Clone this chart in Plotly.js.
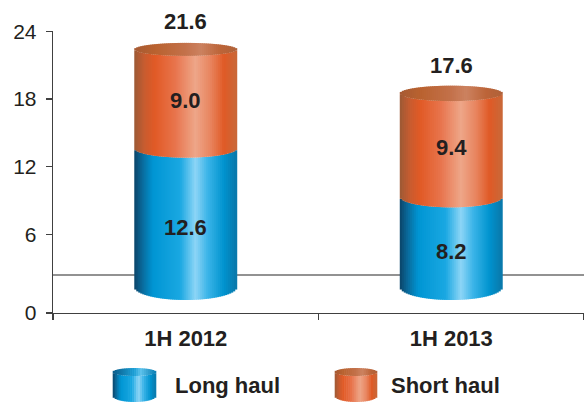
<!DOCTYPE html>
<html>
<head>
<meta charset="utf-8">
<script src="https://cdn.plot.ly/plotly-3.0.1.min.js"></script>
<style>
html,body{margin:0;padding:0;background:#fff;}
#chart{width:584px;height:402px;}
</style>
</head>
<body>
<div id="chart"></div>
<script>
// ---- data ----
const categories = ['1H 2012', '1H 2013'];
const longHaul = [12.6, 8.2];
const shortHaul = [9.0, 9.4];
const totals = [21.6, 17.6];
const seriesNames = ['Long haul', 'Short haul'];
const yTickLabels = ['0', '6', '12', '18', '24'];
const yTickVals = [-1.0, 6, 12, 18, 24];

// ---- styling helpers ----
const FONT = '"Liberation Sans", Arial, sans-serif';
const TXT = '#231f20';
const blueStops = [[0,'#0b4468'],[0.08,'#0a6b9c'],[0.18,'#0095d3'],[0.45,'#1aa8e2'],[0.6,'#8dd5f6'],[0.72,'#3bb4e8'],[0.88,'#0093cf'],[1,'#0a78aa']];
const orangeStops = [[0,'#9c5a35'],[0.1,'#c85c30'],[0.2,'#e15a26'],[0.4,'#e8744c'],[0.6,'#eea689'],[0.75,'#e8845e'],[0.88,'#e05a26'],[1,'#c96838']];
const topStops = [[0,'#a65a34'],[0.2,'#b9622f'],[0.5,'#c3714a'],[0.65,'#cc8260'],[0.85,'#bc6438'],[1,'#b0623a']];

function hex2rgb(h){return [parseInt(h.slice(1,3),16),parseInt(h.slice(3,5),16),parseInt(h.slice(5,7),16)];}
function colorAt(stops,u){
  for(let k=0;k<stops.length-1;k++){
    const a=stops[k], b=stops[k+1];
    if(u>=a[0] && u<=b[0]){
      const f=(u-a[0])/(b[0]-a[0]);
      const ca=hex2rgb(a[1]), cb=hex2rgb(b[1]);
      return 'rgb('+ca.map((v,i)=>Math.round(v+(cb[i]-v)*f)).join(',')+')';
    }
  }
  return stops[stops.length-1][1];
}

// geometry (style)
const W = 0.384;          // cylinder width in category units
const N = 51;             // slices per cylinder
const PXU = 11.0;         // px per unit on the data axis
function halfH(v){ return 13 - 0.3*v; }         // ellipse half-height (px) by level
function arc(t,v){ return halfH(v)*Math.sqrt(Math.max(0,1-t*t))/PXU; }

const traces = [];
// invisible trace to hold tick axis
traces.push({type:'scatter', x:categories, y:[null,null], xaxis:'x', yaxis:'y', hoverinfo:'skip', showlegend:false, mode:'markers'});

const lower = categories.map(()=>0);
const upperL = longHaul.slice();
const upperS = longHaul.map((v,j)=>v+shortHaul[j]);

function addSlices(lowVals, highVals, stops){
  for(let i=0;i<N;i++){
    const t = -1 + (2*i+1)/N, u=(t+1)/2;
    const bases = [], hs = [];
    for(let j=0;j<categories.length;j++){
      const b = lowVals[j] - arc(t, lowVals[j]);
      const top = highVals[j] - arc(t, highVals[j]);
      bases.push(b); hs.push(top-b);
    }
    traces.push({type:'bar', x:categories, y:hs, base:bases, xaxis:'x', yaxis:'y2',
      offset: -W/2 + i*W/N - 0.25*W/N, width: W/N*1.5,
      marker:{color:colorAt(stops,u), line:{width:0}}, hoverinfo:'skip', showlegend:false});
  }
}
addSlices(lower, upperL, blueStops);
addSlices(upperL, upperS, orangeStops);
// top faces
for(let i=0;i<N;i++){
  const t = -1 + (2*i+1)/N, u=(t+1)/2;
  const bases=[], hs=[];
  for(let j=0;j<categories.length;j++){
    const v = upperS[j];
    const d = arc(t, v);
    bases.push(v-d); hs.push(2*d);
  }
  traces.push({type:'bar', x:categories, y:hs, base:bases, xaxis:'x', yaxis:'y2',
    offset: -W/2 + i*W/N - 0.25*W/N, width: W/N*1.5,
    marker:{color:colorAt(topStops,u), line:{width:0}}, hoverinfo:'skip', showlegend:false});
}

// annotations
const LBL = {family:FONT,size:22,color:TXT,weight:'bold'};
const annotations = [];
for(let j=0;j<categories.length;j++){
  annotations.push({xref:'x', yref:'y2', x:categories[j], y:longHaul[j]/2, yshift:-10, text:longHaul[j].toFixed(1), showarrow:false, font:LBL});
  annotations.push({xref:'x', yref:'y2', x:categories[j], y:longHaul[j]+shortHaul[j]/2, yshift:-2, text:shortHaul[j].toFixed(1), showarrow:false, font:LBL});
  annotations.push({xref:'x', yref:'y2', x:categories[j], y:totals[j], yshift:28, text:totals[j].toFixed(1), showarrow:false, font:LBL});
}

// layout geometry
const L=53, R=584, T=31, B=313, H=402;
const px = X => (X-L)/(R-L);
const py = Y => (B-Y)/(B-T);

const shapes = [];
// floor line
shapes.push({type:'line', xref:'paper', yref:'paper', x0:0, x1:1, y0:py(275), y1:py(275), line:{color:'#262626', width:1.1}, layer:'below'});

// legend icons
function icon(x0, x1, stops, tstops){
  const n=22, yc=372, yb=396, ht=4, hb=6;
  for(let i=0;i<n;i++){
    const t=-1+(2*i+1)/n, u=(t+1)/2, s=Math.sqrt(1-t*t);
    const xa = x0 + (x1-x0)*i/n - 0.3, xb = x0 + (x1-x0)*(i+1)/n + 0.3;
    shapes.push({type:'rect', xref:'paper', yref:'paper', x0:px(xa), x1:px(xb), y0:py(yc+ht*s), y1:py(yb+hb*s), fillcolor:colorAt(stops,u), line:{width:0}, layer:'above'});
    shapes.push({type:'rect', xref:'paper', yref:'paper', x0:px(xa), x1:px(xb), y0:py(yc-ht*s), y1:py(yc+ht*s), fillcolor:colorAt(tstops,u), line:{width:0}, layer:'above'});
  }
}
const blueTop = [[0,'#0a5c8a'],[0.5,'#1a9fd6'],[0.65,'#5cc2ec'],[1,'#0a7fb4']];
icon(113, 156, blueStops, blueTop);
icon(335, 377, orangeStops, topStops);
annotations.push({xref:'paper', yref:'paper', x:px(173), y:py(385), xanchor:'left', yanchor:'middle', text:seriesNames[0], showarrow:false, font:LBL});
annotations.push({xref:'paper', yref:'paper', x:px(389), y:py(385), xanchor:'left', yanchor:'middle', text:seriesNames[1], showarrow:false, font:LBL});

const layout = {
  width:584, height:402,
  margin:{l:L, r:0, t:T, b:H-B, pad:0},
  paper_bgcolor:'#fff', plot_bgcolor:'#fff',
  barmode:'overlay',
  showlegend:false,
  font:{family:FONT, color:TXT},
  xaxis:{type:'category', categoryorder:'array', categoryarray:categories, range:[-0.5,1.5],
    showline:true, linecolor:'#404040', linewidth:1.3, showgrid:false, zeroline:false,
    ticks:'outside', tickson:'boundaries', ticklen:6, tickcolor:'#404040', tickwidth:1.3,
    tickfont:{family:FONT, size:22, color:TXT, weight:'bold'}, ticklabelstandoff:5, fixedrange:true},
  yaxis:{range:[-1.0, 24.05], tickvals:yTickVals, ticktext:yTickLabels, showline:true, linecolor:'#404040', linewidth:1.3,
    showgrid:false, zeroline:false, ticks:'outside', ticklen:6, tickcolor:'#404040', tickwidth:1.3,
    tickfont:{family:FONT, size:21, color:TXT}, ticklabelstandoff:5, fixedrange:true},
  yaxis2:{overlaying:'y', range:[-(B-287)/PXU, (287-T)/PXU], visible:false, fixedrange:true},
  shapes:shapes,
  annotations:annotations
};

Plotly.newPlot('chart', traces, layout, {displayModeBar:false, staticPlot:true});
</script>
</body>
</html>
